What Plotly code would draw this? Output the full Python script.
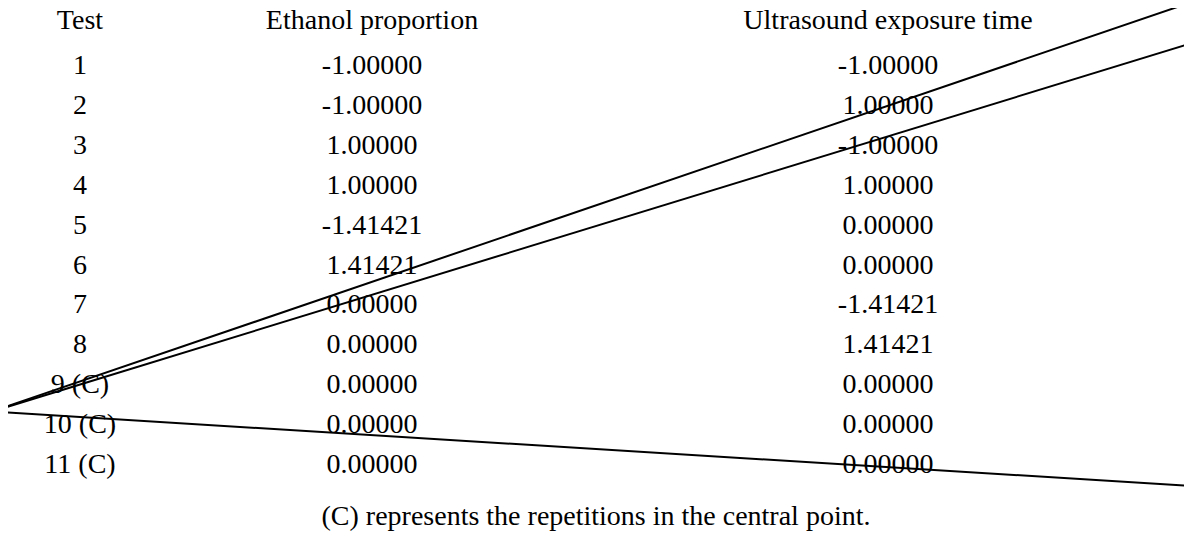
import plotly.graph_objects as go

headers = ["Test", "Ethanol proportion", "Ultrasound exposure time"]
tests = ["1", "2", "3", "4", "5", "6", "7", "8", "9 (C)", "10 (C)", "11 (C)"]
ethanol = ["-1.00000", "-1.00000", "1.00000", "1.00000", "-1.41421", "1.41421",
           "0.00000", "0.00000", "0.00000", "0.00000", "0.00000"]
ultrasound = ["-1.00000", "1.00000", "-1.00000", "1.00000", "0.00000", "0.00000",
              "-1.41421", "1.41421", "0.00000", "0.00000", "0.00000"]
note = "(C) represents the repetitions in the central point."

# column centres and row positions in pixel units of the page
col_x = [80, 372, 888]
header_y = 22
row_y = [67 + 39.9 * i for i in range(len(tests))]

font = dict(family="Liberation Serif", size=28, color="black")

fig = go.Figure()
fig.add_trace(go.Scatter(x=col_x, y=[header_y] * 3, text=headers, mode="text",
                         textfont=font, hoverinfo="skip"))
for cx, col in zip(col_x, [tests, ethanol, ultrasound]):
    fig.add_trace(go.Scatter(x=[cx] * len(col), y=row_y, text=col, mode="text",
                             textfont=font, hoverinfo="skip"))
fig.add_trace(go.Scatter(x=[596], y=[518], text=[note], mode="text",
                         textfont=font, hoverinfo="skip"))

for y in [2, 43, 486]:
    fig.add_shape(type="line", x0=0, x1=1192, y0=y, y1=y,
                  line=dict(color="black", width=2))

# page body has an 8px margin, so offset the ranges to keep page pixel units
fig.update_xaxes(range=[8, 1192], visible=False)
fig.update_yaxes(range=[546, 8], visible=False)
fig.update_layout(width=1184, height=538, margin=dict(l=0, r=0, t=0, b=0),
                  showlegend=False, plot_bgcolor="white", paper_bgcolor="white")
fig.update_shapes(x0=-8, y0=None)
for s, y in zip(fig.layout.shapes, [10, 43, 486]):
    pass

fig.write_html("out.html")
